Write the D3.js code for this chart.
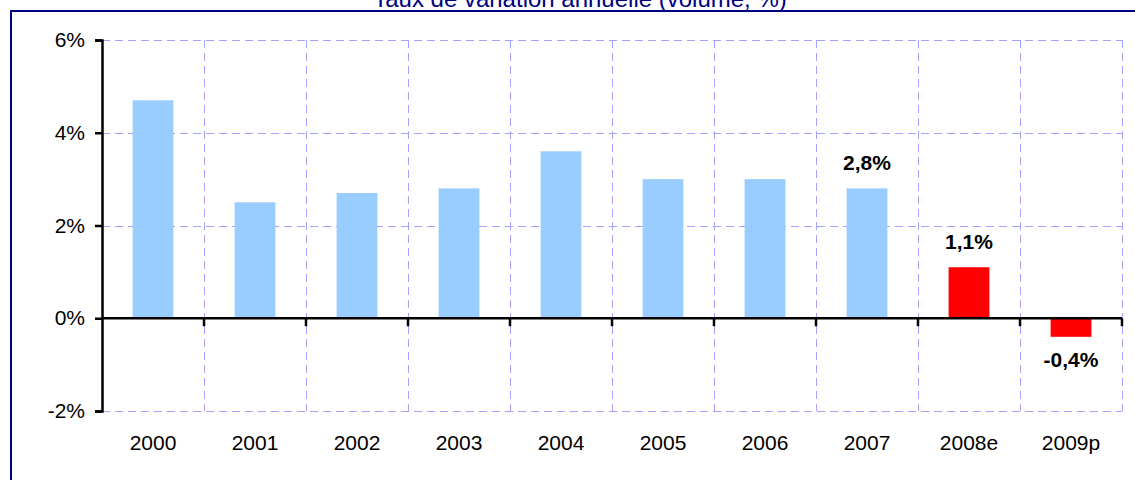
<!DOCTYPE html>
<html>
<head>
<meta charset="utf-8">
<script src="https://cdn.jsdelivr.net/npm/d3@7"></script>
<style>
body { margin: 0; background: #fff; }
text { font-family: "Liberation Sans", Arial, sans-serif; }
</style>
</head>
<body>
<div id="chart"></div>
<script>
const w = 1135;
const h = 480;

// data
const years = ["2000","2001","2002","2003","2004","2005","2006","2007","2008e","2009p"];
const values = [4.7, 2.5, 2.7, 2.8, 3.6, 3.0, 3.0, 2.8, 1.1, -0.4];
const labels = ["", "", "", "", "", "", "", "2,8%", "1,1%", "-0,4%"];
const colors = ["#99ccff","#99ccff","#99ccff","#99ccff","#99ccff","#99ccff","#99ccff","#99ccff","#ff0000","#ff0000"];
const yTicks = [-2, 0, 2, 4, 6];

const x0 = 102, x1 = 1122;
const yTop = 40, yBot = 411;

const svg = d3.select("#chart")
.append('svg')
.attr('width', w)
.attr('height', h);

//outer frame
svg.append('rect')
.attr('x', 11).attr('y', 11)
.attr('width', 1300).attr('height', 600)
.attr('fill', 'none')
.attr('stroke', '#000080')
.attr('stroke-width', 2);

//title (cut at the top)
svg.append('text')
.attr('x', 580).attr('y', 7)
.attr('text-anchor', 'middle')
.attr('fill', '#000080')
.style('font-size', '24px')
.text('Taux de variation annuelle (volume, %)');

//scales
const xScale = d3.scaleBand()
.domain(years)
.range([x0, x1])
.paddingInner(0.6)
.paddingOuter(0.3);

const yScale = d3.scaleLinear()
.domain([-2, 6])
.range([yBot, yTop]);

const step = xScale.step();
const bounds = years.map((d, i) => x0 + step * (i + 1));

//grid
const grid = svg.append('g').attr('stroke', '#a3a3ff').attr('stroke-width', 1)
.attr('stroke-dasharray', '8,5');
grid.selectAll('.hgrid')
.data(yTicks.filter(d => d !== 0))
.enter().append('line')
.attr('x1', x0).attr('x2', x1)
.attr('y1', d => Math.round(yScale(d)) + 0.5)
.attr('y2', d => Math.round(yScale(d)) + 0.5);
grid.selectAll('.vgrid')
.data(bounds)
.enter().append('line')
.attr('x1', d => Math.round(d) + 0.5).attr('x2', d => Math.round(d) + 0.5)
.attr('y1', yTop).attr('y2', yBot);

//bars
svg.append('g')
.selectAll('rect')
.data(values)
.enter().append('rect')
.attr('x', (d, i) => xScale(years[i]))
.attr('width', xScale.bandwidth())
.attr('y', d => yScale(Math.max(0, d)))
.attr('height', d => Math.abs(yScale(d) - yScale(0)))
.attr('fill', (d, i) => colors[i]);

//value labels
svg.append('g')
.selectAll('text')
.data(values)
.enter().append('text')
.attr('x', (d, i) => xScale(years[i]) + xScale.bandwidth() / 2)
.attr('y', d => d >= 0 ? yScale(d) - 18 : yScale(d) + 30)
.attr('text-anchor', 'middle')
.style('font-size', '21px')
.style('font-weight', 'bold')
.text((d, i) => labels[i]);

//y axis
const yAxis = d3.axisLeft(yScale)
.tickValues(yTicks)
.tickSize(7)
.tickPadding(10)
.tickFormat(d => d + '%');
const gy = svg.append('g')
.attr('transform', `translate(${x0},0)`)
.call(yAxis);
gy.select('.domain').attr('stroke-width', 2.5);
gy.selectAll('.tick line').attr('stroke-width', 2.5);
gy.selectAll('text').style('font-size', '21px').attr('fill', '#000').attr('font-family', null);

//x axis line at zero
const zeroY = yScale(0);
svg.append('line')
.attr('x1', x0).attr('x2', x1)
.attr('y1', zeroY).attr('y2', zeroY)
.attr('stroke', '#000').attr('stroke-width', 2.5);
svg.append('g')
.selectAll('line')
.data(bounds)
.enter().append('line')
.attr('x1', d => d).attr('x2', d => d)
.attr('y1', zeroY).attr('y2', zeroY + 8)
.attr('stroke', '#000').attr('stroke-width', 2.5);

//category labels
svg.append('g')
.selectAll('text')
.data(years)
.enter().append('text')
.attr('x', d => xScale(d) + xScale.bandwidth() / 2)
.attr('y', 450)
.attr('text-anchor', 'middle')
.style('font-size', '21px')
.text(d => d);
</script>
</body>
</html>
